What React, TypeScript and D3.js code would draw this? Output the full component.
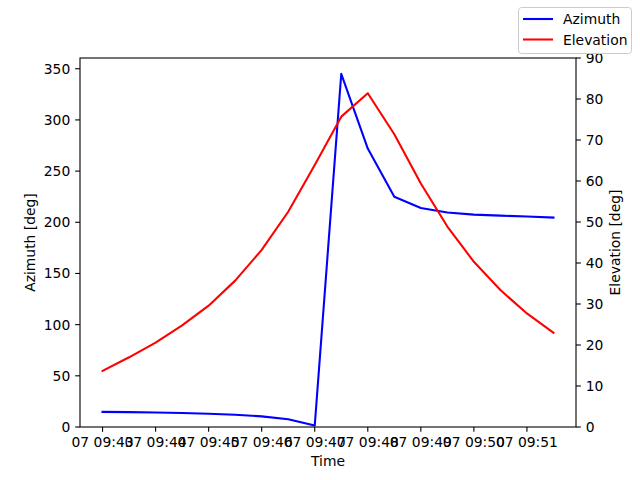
import React from "react";
import * as d3 from "d3";

const times = [
  "09:43:00", "09:43:30", "09:44:00", "09:44:30", "09:45:00", "09:45:30",
  "09:46:00", "09:46:30", "09:47:00", "09:47:30", "09:48:00", "09:48:30",
  "09:49:00", "09:49:30", "09:50:00", "09:50:30", "09:51:00", "09:51:30",
];
const azimuth = [
  14.8, 14.5, 14.1, 13.7, 13.0, 12.0, 10.4, 7.6, 1.4, 345, 272, 225,
  214, 209.5, 207.5, 206.5, 205.6, 204.6,
];
const elevation = [
  13.7, 17.0, 20.6, 24.8, 29.6, 35.7, 43.2, 52.5, 63.9, 75.7, 81.4, 71.4,
  59.4, 48.9, 40.3, 33.4, 27.7, 23.0,
];
const azTicks = [0, 50, 100, 150, 200, 250, 300, 350];
const elTicks = [0, 10, 20, 30, 40, 50, 60, 70, 80, 90];
const seriesNames = ["Azimuth", "Elevation"];
const seriesColors = ["#0000ff", "#ff0000"];

const parse = (t: string) => {
  const [h, m, s] = t.split(":").map(Number);
  return new Date(2024, 0, 7, h, m, s);
};

export default function App() {
  const W = 640, H = 480;
  const L = 80, R = 576, T = 58, B = 427;
  const font = "DejaVu Sans, sans-serif";
  const fs = 13.89;
  const dates = times.map(parse);
  const ext = d3.extent(dates) as [Date, Date];
  const span = ext[1].getTime() - ext[0].getTime();
  const x = d3
    .scaleTime()
    .domain([new Date(ext[0].getTime() - span * 0.05), new Date(ext[1].getTime() + span * 0.05)])
    .range([L, R]);
  const yL = d3.scaleLinear().domain([0, 360.5]).range([B, T]);
  const yR = d3.scaleLinear().domain([0, 90]).range([B, T]);
  const xTicks = d3.timeMinute.range(parse("09:43:00"), parse("09:51:01"));
  const fmt = d3.timeFormat("%d %H:%M");

  const azLine = d3.line<number>().x((_, i) => x(dates[i])).y((d) => yL(d))(azimuth) || "";
  const elLine = d3.line<number>().x((_, i) => x(dates[i])).y((d) => yR(d))(elevation) || "";
  const tl = 4.86;

  return (
    <svg width={W} height={H} style={{ position: "absolute", left: 0, top: 0 }} fontFamily={font} fontSize={fs}>
      <rect x={0} y={0} width={W} height={H} fill="#fff" />
      <defs>
        <clipPath id="plot">
          <rect x={L} y={T} width={R - L} height={B - T} />
        </clipPath>
      </defs>
      <g clipPath="url(#plot)">
        <path d={azLine} fill="none" stroke={seriesColors[0]} strokeWidth={2.08} strokeLinejoin="round" strokeLinecap="square" />
        <path d={elLine} fill="none" stroke={seriesColors[1]} strokeWidth={2.08} strokeLinejoin="round" strokeLinecap="square" />
      </g>
      <rect x={L} y={T} width={R - L} height={B - T} fill="none" stroke="#000" strokeWidth={1.1} />
      {xTicks.map((t, i) => (
        <g key={i}>
          <line x1={x(t)} x2={x(t)} y1={B} y2={B + tl} stroke="#000" strokeWidth={1.1} />
          <text x={x(t)} y={B + tl + 4.86 + 10.5} textAnchor="middle" fill="#000">{fmt(t)}</text>
        </g>
      ))}
      {azTicks.map((v) => (
        <g key={"l" + v}>
          <line x1={L - tl} x2={L} y1={yL(v)} y2={yL(v)} stroke="#000" strokeWidth={1.1} />
          <text x={L - tl - 4.86} y={yL(v)} dy="0.36em" textAnchor="end" fill="#000">{v}</text>
        </g>
      ))}
      {elTicks.map((v) => (
        <g key={"r" + v}>
          <line x1={R} x2={R + tl} y1={yR(v)} y2={yR(v)} stroke="#000" strokeWidth={1.1} />
          <text x={R + tl + 4.86} y={yR(v)} dy="0.36em" textAnchor="start" fill="#000">{v}</text>
        </g>
      ))}
      <text x={(L + R) / 2} y={466} textAnchor="middle" fill="#000">Time</text>
      <text transform={`translate(35,${(T + B) / 2}) rotate(-90)`} textAnchor="middle" fill="#000">Azimuth [deg]</text>
      <text transform={`translate(620,${(T + B) / 2}) rotate(-90)`} textAnchor="middle" fill="#000">Elevation [deg]</text>
      <g>
        <rect x={518.5} y={7.5} width={113} height={46} rx={3} fill="#fff" fillOpacity={0.8} stroke="#cccccc" strokeWidth={1} />
        {seriesNames.map((n, i) => (
          <g key={n}>
            <line x1={523} x2={553} y1={19 + i * 20.5} y2={19 + i * 20.5} stroke={seriesColors[i]} strokeWidth={2.08} />
            <text x={563} y={19 + i * 20.5} dy="0.36em" fill="#000">{n}</text>
          </g>
        ))}
      </g>
    </svg>
  );
}
